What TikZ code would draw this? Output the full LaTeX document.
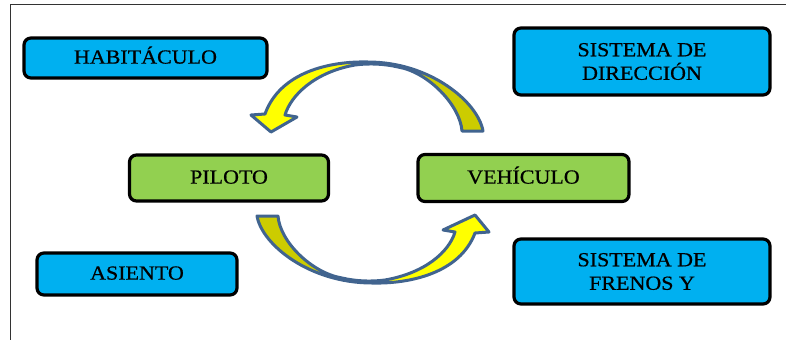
\documentclass[tikz,border=0pt]{standalone}
\usepackage{fontspec}
\setmainfont{Liberation Serif}[FakeStretch=1.1, FakeBold=0.6]
\definecolor{boxblue}{HTML}{00B0F0}
\definecolor{boxgreen}{HTML}{92D050}
\definecolor{arrowline}{HTML}{41648F}
\definecolor{arrowhead}{HTML}{FFFF00}
\definecolor{arrowtail}{HTML}{CCCC00}
\definecolor{frameline}{HTML}{333333}
\tikzset{
  labelbox/.style={draw=black, line width=3.2pt, rounded corners=7pt,
    align=center, inner sep=0pt, font=\fontsize{20}{23.5}\selectfont},
  oneline/.style={text height=13.2pt, text depth=2pt},
  bluebox/.style={labelbox, fill=boxblue},
  greenbox/.style={labelbox, fill=boxgreen},
  bend arrow/.style={draw=arrowline, line width=3pt, line join=round}
}
\begin{document}
\begin{tikzpicture}[x=1pt, y=-1pt]
\useasboundingbox (0,0) rectangle (786,340);

% page frame: top and left rules
\draw[frameline, line width=1pt] (786,4) -- (10,4) -- (10,340);

% boxes
\node[bluebox, oneline, minimum width=243pt, minimum height=40pt] (habitaculo) at (145.5,58) {HABITÁCULO};
\node[bluebox, minimum width=256pt, minimum height=67pt] (direccion) at (642,61.5) {SISTEMA DE\\DIRECCIÓN};
\node[greenbox, oneline, minimum width=199pt, minimum height=46pt] (piloto) at (229,178) {PILOTO};
\node[greenbox, oneline, minimum width=211pt, minimum height=47pt] (vehiculo) at (523.5,178) {VEHÍCULO};
\node[bluebox, oneline, minimum width=200pt, minimum height=42pt] (asiento) at (137,274) {ASIENTO};
\node[bluebox, minimum width=256pt, minimum height=65pt] (frenos) at (642,271.5) {SISTEMA DE\\FRENOS Y};

% upper curved arrow: from the vehicle side back to the pilot side
\def\upperarrow{(483,131) .. controls (478,102) and (430,62) .. (368,62)
  .. controls (330,61) and (280,72) .. (265,114)
  -- (251,115) -- (271,132) -- (297,117) -- (285,115)
  .. controls (291,95) and (315,72) .. (355,65)
  .. controls (370,63) and (385,64) .. (398,67)
  .. controls (428,72) and (460,105) .. (462,131) -- cycle}
\fill[arrowhead] \upperarrow;
\begin{scope}
  \clip (370,0) rectangle (786,170);
  \fill[arrowtail] \upperarrow;
\end{scope}
\draw[bend arrow] \upperarrow;

% lower curved arrow: from the pilot side to the vehicle side
\def\lowerarrow{(257,216) .. controls (262,245) and (310,283) .. (372,283)
  .. controls (410,284) and (460,273) .. (475,233)
  -- (489,232) -- (475,215) -- (443,230) -- (455,232)
  .. controls (449,252) and (425,273) .. (385,280)
  .. controls (370,282) and (355,281) .. (342,278)
  .. controls (312,273) and (280,242) .. (278,216) -- cycle}
\fill[arrowhead] \lowerarrow;
\begin{scope}
  \clip (0,170) rectangle (370,340);
  \fill[arrowtail] \lowerarrow;
\end{scope}
\draw[bend arrow] \lowerarrow;
\end{tikzpicture}
\end{document}
